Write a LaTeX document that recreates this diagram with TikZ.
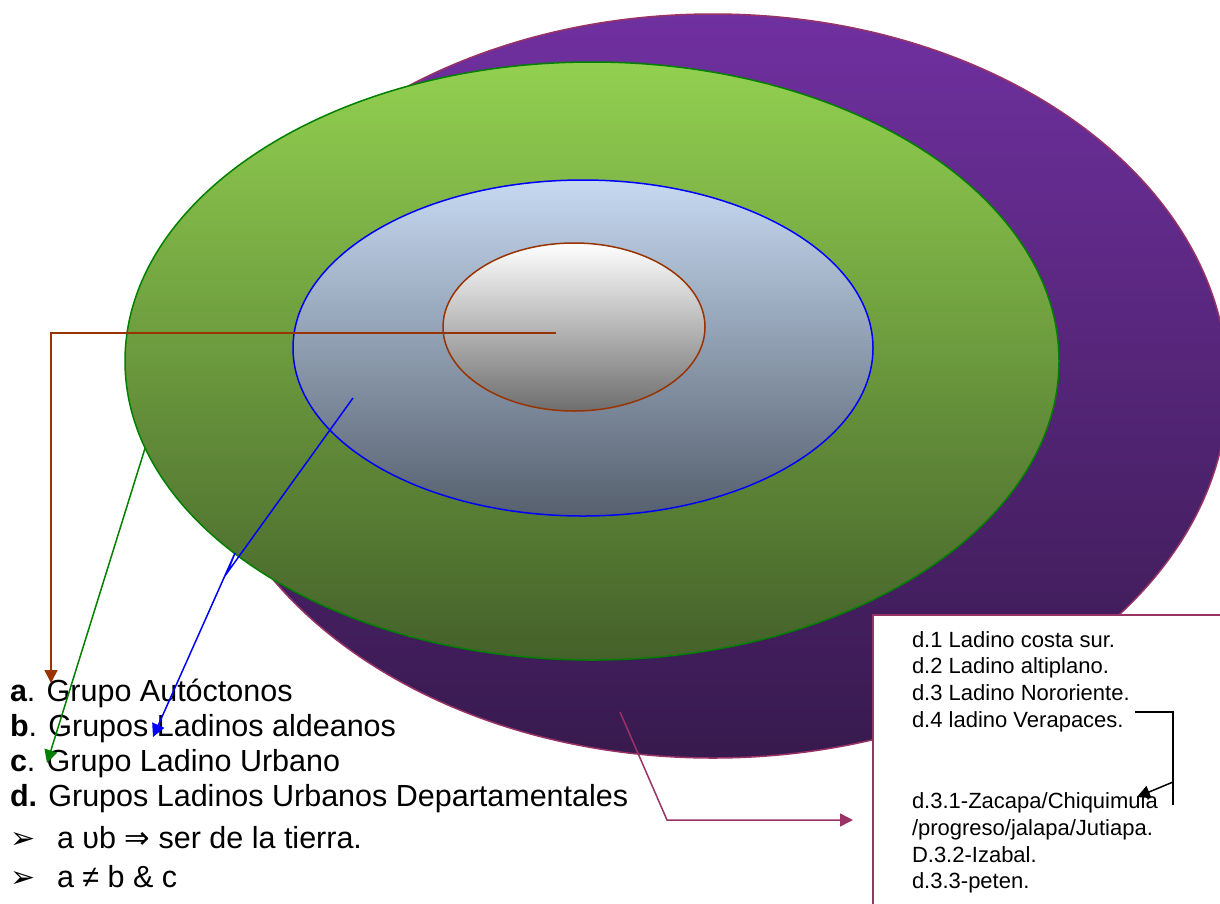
\documentclass[tikz,border=0pt]{standalone}
\usepackage{fontspec}
\setmainfont{Liberation Sans}
\newfontfamily\symfont{DejaVu Sans}
\usetikzlibrary{shapes.geometric,arrows.meta}

\definecolor{violeta}{HTML}{7030A0}
\definecolor{violetaosc}{HTML}{381A4E}
\definecolor{borde}{HTML}{993366}
\definecolor{verde}{HTML}{92D050}
\definecolor{verdeosc}{HTML}{44612A}
\definecolor{verdeborde}{HTML}{008000}
\definecolor{celeste}{HTML}{C6D9F1}
\definecolor{pizarra}{HTML}{56606E}
\definecolor{gris}{HTML}{6E6E6E}
\definecolor{cafe}{HTML}{993300}

\begin{document}
\begin{tikzpicture}[x=1pt,y=-1pt,
   every node/.style={inner sep=0pt,outer sep=0pt},
   zona/.style={ellipse,draw,line width=1.5pt},
   lista/.style={anchor=base west,font=\fontsize{30.5}{35}\selectfont},
   marca/.style={anchor=base west,font=\symfont\fontsize{30}{30}\selectfont},
   sublista/.style={anchor=base west,font=\fontsize{22}{26.8}\selectfont},
   flecha/.style={line width=1.5pt,-{Triangle[length=13pt,width=13pt]}}]
\useasboundingbox (0,0) rectangle (1220,903);
\clip (0,0) rectangle (1220,903);

% zonas
\node[zona,draw=borde,top color=violeta,bottom color=violetaosc,
   minimum width=1030pt,minimum height=744pt] (dep) at (713,386) {};
\node[zona,draw=verdeborde,top color=verde,bottom color=verdeosc,
   minimum width=934pt,minimum height=598pt] (urb) at (592,361) {};
\node[zona,draw=blue,top color=celeste,bottom color=pizarra,
   minimum width=580pt,minimum height=336pt] (ald) at (583,348) {};
\node[zona,draw=cafe,top color=white,bottom color=gris,
   minimum width=262pt,minimum height=168pt] (aut) at (574,327) {};

% recuadro de departamentos
\node[draw=borde,line width=1.5pt,fill=white,anchor=north west,
   minimum width=380pt,minimum height=320pt] (caja) at (873,615) {};
\node[sublista] (d1) at (912,647) {d.1 Ladino costa sur.};
\node[sublista] (d2) at (912,673) {d.2 Ladino altiplano.};
\node[sublista] (d3) at (912,700) {d.3 Ladino Nororiente.};
\node[sublista] (d4) at (912,727) {d.4 ladino Verapaces.};
\node[sublista] (d31) at (912,808) {d.3.1-Zacapa/Chiquimula};
\node[sublista] (d31b) at (912,835) {/progreso/jalapa/Jutiapa.};
\node[sublista] (d32) at (912,862) {D.3.2-Izabal.};
\node[sublista] (d33) at (912,888) {d.3.3-peten.};

% lista
\node[lista] (la) at (10,701) {\textbf{a}. Grupo Autóctonos};
\node[lista] (lb) at (10,736) {\textbf{b}. Grupos Ladinos aldeanos};
\node[lista] (lc) at (10,771) {\textbf{c}. Grupo Ladino Urbano};
\node[lista] (ld) at (10,806) {\textbf{d.} Grupos Ladinos Urbanos Departamentales};
\node[marca] (m1) at (10,848) {➢};
\node[marca] (m2) at (10,887) {➢};
\node[lista] (p1) at (57,848) {a υb {\symfont⇒} ser de la tierra.};
\node[lista] (p2) at (57,887) {a ≠ b \& c};

% puntos libres
\coordinate (fa) at (51,683);
\coordinate (fc) at (47,763);
\coordinate (bs) at (353,398);
\coordinate (bq) at (227,573);
\coordinate (br) at (235,553);
\coordinate (fb) at (153,737);
\coordinate (ms) at (620,712);
\coordinate (mq) at (667,820);
\coordinate (fm) at (853,820);
\coordinate (ns) at (1135,712);
\coordinate (nq) at (1173,805);
\coordinate (nr) at (1173,782);
\coordinate (fn) at (1137,797);

% flechas
\draw[flecha,cafe] ([xshift=-18pt,yshift=-6pt]aut.center) -| (fa);
\draw[flecha,verdeborde] (urb.191) -- (fc);
\draw[flecha,blue] (bs) -- (bq) -- (br) -- (fb);
\draw[flecha,borde] (ms) -- (mq) -- (fm);
\draw[line width=1.5pt] (ns) -| (nq);
\draw[flecha,black] (nr) -- (fn);
\end{tikzpicture}
\end{document}
